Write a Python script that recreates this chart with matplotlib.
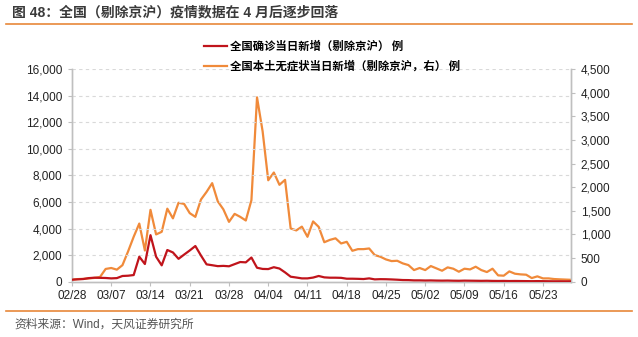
import numpy as np
import pandas as pd
import matplotlib
matplotlib.use("Agg")
import matplotlib.pyplot as plt
from matplotlib.lines import Line2D
from matplotlib.ticker import FuncFormatter, MultipleLocator

# Daily series, 2022-02-28 .. 2022-05-28
dates = pd.date_range("2022-02-28", "2022-05-28", freq="D")

# 全国确诊当日新增（剔除京沪）, left axis
confirmed = [
    150, 180, 200, 270, 300, 290, 280, 250, 270, 430,
    450, 500, 1880, 1330, 3500, 1880, 1230, 2384, 2200, 1720,
    2040, 2350, 2685, 1970, 1305, 1240, 1170, 1190, 1160, 1320,
    1480, 1455, 1820, 1050, 960, 950, 1090, 990, 700, 376,
    315, 250, 250, 310, 430, 326, 301, 301, 290, 225,
    225, 215, 200, 250, 175, 190, 185, 170, 150, 125,
    120, 100, 100, 90, 95, 85, 80, 85, 75, 70,
    80, 75, 70, 65, 70, 60, 55, 60, 50, 55,
    50, 45, 40, 45, 40, 35, 30, 30, 25, 25,
]

# 全国本土无症状当日新增（剔除京沪）, right axis
asymptomatic = [
    45, 55, 60, 70, 80, 100, 270, 290, 255, 350,
    640, 950, 1230, 660, 1520, 1000, 1055, 1545, 1340, 1670,
    1645, 1450, 1372, 1738, 1900, 2085, 1700, 1530, 1266, 1435,
    1372, 1295, 1724, 3900, 3180, 2146, 2310, 2050, 2155, 1127,
    1085, 1165, 950, 1275, 1160, 835, 885, 918, 809, 844,
    654, 689, 689, 703, 563, 528, 471, 436, 443, 387,
    352, 246, 290, 246, 331, 282, 232, 303, 275, 211,
    275, 260, 317, 246, 204, 275, 134, 127, 218, 169,
    155, 148, 77, 113, 70, 70, 56, 50, 45, 40,
]

legend_labels = ["全国确诊当日新增（剔除京沪） 例", "全国本土无症状当日新增（剔除京沪，右） 例"]
title_text = "图 48：全国（剔除京沪）疫情数据在 4 月后逐步回落"
source_text = "资料来源：Wind，天风证券研究所"

RED = "#C0141B"
ORANGE = "#F08A3A"
ACCENT = "#E8873A"
GRID = "#D9D9D9"
SPINE = "#BFBFBF"

FONT = ["Liberation Sans", "Noto Sans CJK SC", "DejaVu Sans"]
CJK = ["Noto Sans CJK SC", "Liberation Sans", "DejaVu Sans"]
plt.rcParams["font.family"] = FONT

x = np.arange(len(dates))
tick_pos = x[::7]
tick_labels = [d.strftime("%m/%d") for d in dates[::7]]

fig = plt.figure(figsize=(6.38, 3.37), dpi=100)
ax = fig.add_axes([72 / 638, 1 - 281.7 / 337, (571 - 72) / 638, (281.7 - 69) / 337])
ax2 = ax.twinx()

ax.plot(x, confirmed, color=RED, lw=1.6, solid_joinstyle="round", zorder=3)
ax2.plot(x, asymptomatic, color=ORANGE, lw=1.6, solid_joinstyle="round", zorder=2)
ax.set_zorder(ax2.get_zorder() + 1)
ax.patch.set_visible(False)

ax.set_xlim(0, len(dates) - 1)
ax.set_ylim(0, 16000)
ax2.set_ylim(0, 4500)
ax.yaxis.set_major_locator(MultipleLocator(2000))
ax2.yaxis.set_major_locator(MultipleLocator(500))
fmt = FuncFormatter(lambda v, p: f"{int(v):,}")
ax.yaxis.set_major_formatter(fmt)
ax2.yaxis.set_major_formatter(fmt)

ax.set_xticks(tick_pos)
ax.set_xticklabels(tick_labels)

# dashed horizontal grid from the left axis
for v in np.arange(2000, 16001, 2000):
    ax.axhline(v, color=GRID, lw=0.8, ls=(0, (3, 3)), zorder=0)

for a in (ax, ax2):
    a.spines["top"].set_visible(False)
    for s in ("left", "right", "bottom"):
        a.spines[s].set_color(SPINE)
        a.spines[s].set_linewidth(1.0)
    a.tick_params(axis="both", colors=SPINE, labelcolor="#222222",
                  labelsize=8.5, length=3, width=0.8)
ax.tick_params(axis="y", pad=4)
ax2.tick_params(axis="y", pad=4)
ax.tick_params(axis="x", pad=3)

# legend
handles = [Line2D([], [], color=RED, lw=1.6), Line2D([], [], color=ORANGE, lw=1.6)]
fig.legend(handles, legend_labels, loc="upper left", bbox_to_anchor=(194 / 638, 1 - 30 / 337),
           frameon=False, handlelength=2.0, handletextpad=0.25, labelspacing=0.6,
           prop={"family": CJK, "size": 8.2, "weight": "bold"})

# header and footer
fig.text(12 / 638, 1 - 12 / 337, title_text, fontsize=10, fontweight="bold",
         color="#3A3A3A", va="center", ha="left", family=FONT)
fig.add_artist(Line2D([6 / 638, 632 / 638], [1 - 24 / 337] * 2, color=ACCENT, lw=1.2))
fig.add_artist(Line2D([6 / 638, 632 / 638], [1 - 311 / 337] * 2, color=ACCENT, lw=1.2))
fig.text(14 / 638, 1 - 325 / 337, source_text, fontsize=8.5, color="#555555",
         va="center", ha="left", family=FONT)

fig.savefig("out.png", dpi=100)
